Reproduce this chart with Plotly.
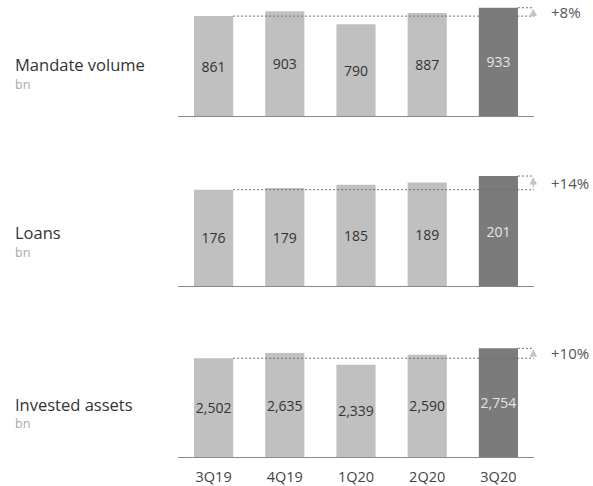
import plotly.graph_objects as go

# Quarterly figures (bn)
quarters = ["3Q19", "4Q19", "1Q20", "2Q20", "3Q20"]
mandate_volume = [861, 903, 790, 887, 933]
loans = [176, 179, 185, 189, 201]
invested_assets = [2502, 2635, 2339, 2590, 2754]

panel_titles = ["Mandate volume", "Loans", "Invested assets"]
unit_label = "bn"

W, H = 593, 486
FONT = "Open Sans"
LIGHT = "#c0c0c0"
DARK = "#7b7b7b"

def py(px):
    """pixel row (from top) -> paper y"""
    return 1 - px / H

# layout geometry per panel: (values, baseline px, top px, y range max, title px, unit px)
panels = [
    (mandate_volume, 116, 0, 1000, 64, 84),
    (loans, 286, 170, 212, 232, 252),
    (invested_assets, 457, 341, 2940, 404, 423),
]

x_dom = [178 / W, 534 / W]
fig = go.Figure()
layout = dict(
    width=W, height=H,
    margin=dict(l=0, r=0, t=0, b=0),
    paper_bgcolor="white", plot_bgcolor="white",
    showlegend=False,
    font=dict(family=FONT, color="#333333"),
)
shapes, annotations = [], []

for i, (vals, base, top, ymax, title_px, unit_px) in enumerate(panels):
    n = i + 1
    xa = "x" if n == 1 else f"x{n}"
    ya = "y" if n == 1 else f"y{n}"
    colors = [LIGHT] * (len(vals) - 1) + [DARK]
    txtcol = ["#333333"] * (len(vals) - 1) + ["#e6e6e6"]
    fig.add_trace(go.Bar(
        x=list(range(len(quarters))), y=vals,
        marker=dict(color=colors, line=dict(width=0)),
        width=0.55,
        text=[f"{v:,}" for v in vals],
        textposition="inside", insidetextanchor="middle",
        textangle=0, constraintext="none",
        textfont=dict(family=FONT, size=14, color=txtcol),
        xaxis=xa, yaxis=ya, hoverinfo="skip",
    ))
    layout[f"xaxis{'' if n == 1 else n}"] = dict(
        domain=x_dom, range=[-0.5, 4.5], anchor=ya,
        tickmode="array", tickvals=list(range(len(quarters))),
        ticktext=quarters, showticklabels=(n == 3),
        tickfont=dict(family=FONT, size=14.5, color="#444444"),
        ticklabelstandoff=6,
        ticks="", showgrid=False, zeroline=False,
        showline=True, linecolor="#8a8a8a", linewidth=1.2,
    )
    layout[f"yaxis{'' if n == 1 else n}"] = dict(
        domain=[py(base), py(top)], range=[0, ymax], anchor=xa,
        showticklabels=False, showgrid=False, zeroline=False, ticks="",
    )

    first, last = vals[0], vals[-1]
    dot = dict(color="#6f6f6f", width=1, dash="2px,2px")
    shapes.append(dict(type="line", xref=xa, yref=ya, x0=0.275, x1=4.58,
                       y0=first, y1=first, line=dot, layer="above"))
    shapes.append(dict(type="line", xref=xa, yref=ya, x0=4.275, x1=4.58,
                       y0=last, y1=last, line=dot, layer="above"))
    annotations.append(dict(
        x=4.49, y=last, xref=xa, yref=ya, ax=4.49, ay=first,
        axref=xa, ayref=ya, text="", showarrow=True,
        arrowhead=2, arrowsize=1, arrowwidth=1.5, arrowcolor="#c4c4c4",
        standoff=1, startstandoff=1,
    ))
    pct = round((last / first - 1) * 100)
    annotations.append(dict(
        x=549 / W, y=(first + last) / 2, xref="paper", yref=ya,
        text=f"+{pct}%", showarrow=False, xanchor="left", yanchor="middle",
        font=dict(family=FONT, size=15, color="#555555"),
    ))
    annotations.append(dict(
        x=14 / W, y=py(title_px), xref="paper", yref="paper",
        text=panel_titles[i], showarrow=False, xanchor="left", yanchor="middle",
        borderpad=0,
        font=dict(family=FONT, size=16.5, color="#333333"),
    ))
    annotations.append(dict(
        x=14 / W, y=py(unit_px), xref="paper", yref="paper",
        text=unit_label, showarrow=False, xanchor="left", yanchor="middle",
        borderpad=0,
        font=dict(family=FONT, size=12.5, color="#aaaaaa"),
    ))

layout["shapes"] = shapes
layout["annotations"] = annotations
fig.update_layout(**layout)
fig.write_html("out.html")
